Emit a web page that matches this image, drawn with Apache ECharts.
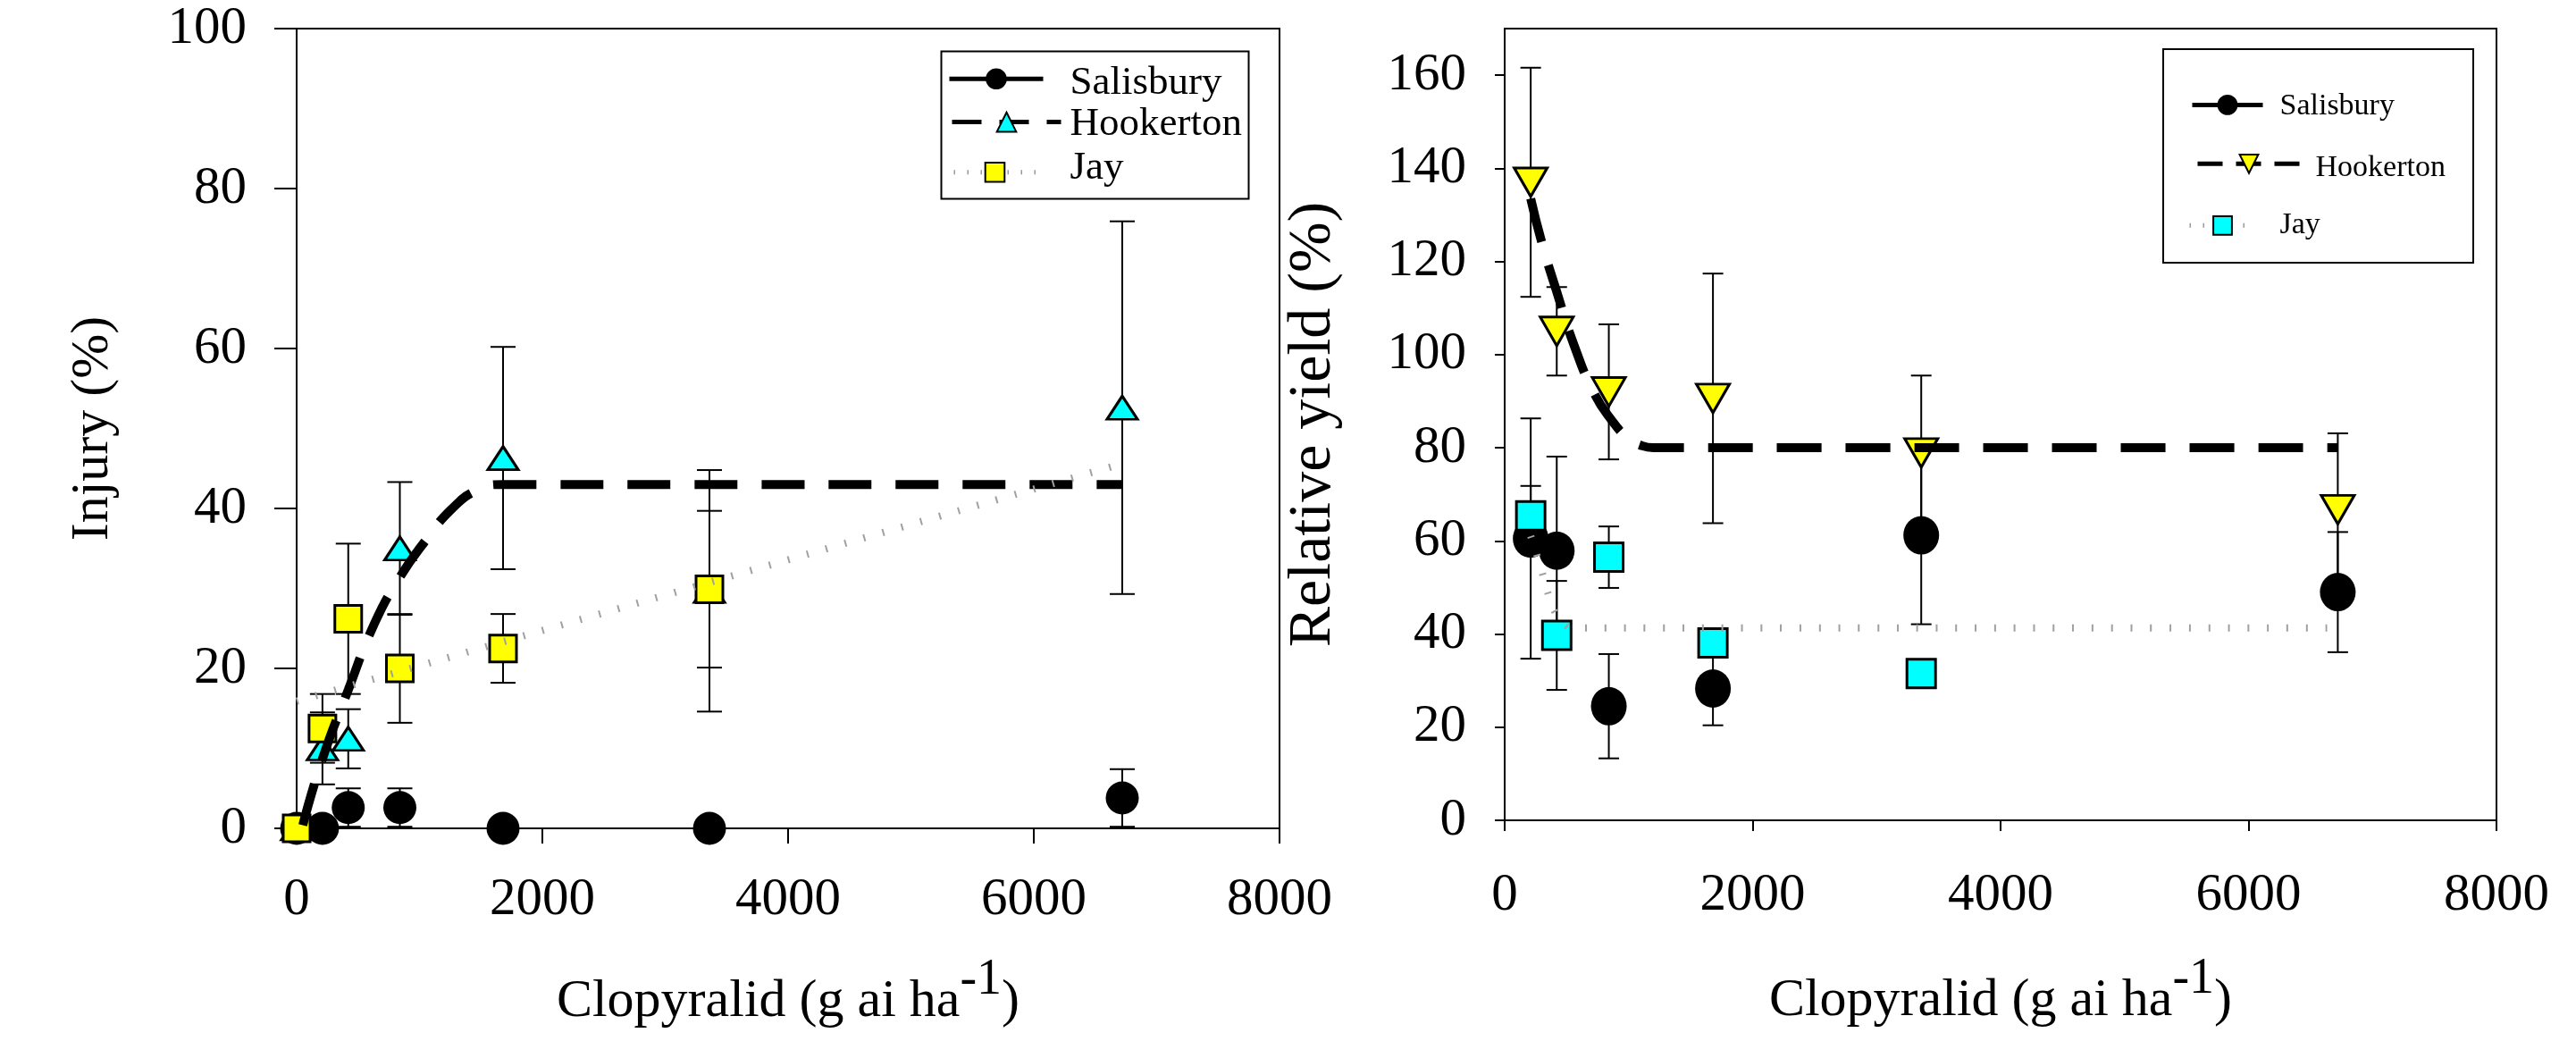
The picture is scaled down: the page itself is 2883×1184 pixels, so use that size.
<!DOCTYPE html>
<html>
<head>
<meta charset="utf-8">
<script src="https://cdn.jsdelivr.net/npm/echarts@6/dist/echarts.min.js"></script>
<style>html,body{margin:0;padding:0;background:#fff}#c{width:2883px;height:1184px}</style>
</head>
<body>
<div id="c"></div>
<script>
// ---------- data ----------
const doses = [0, 210, 420, 840, 1680, 3360, 6720];
const salInj = [0, 0, 2.6, 2.6, 0, 0, 3.8];
const salInjErr = [null, null, 2.4, 2.4, null, null, 3.6];
const hookInj = [0, 10, 11.2, 35, 46.3, 29.7, 52.6];
const hookInjErr = [null, 4.5, 3.7, 8.3, 13.9, 15.1, 23.3];
const jayInj = [0, 12.5, 26.2, 20, 22.5, 29.9, null];
const jayInjErr = [null, 4.3, 9.4, 6.8, 4.3, 9.8, null];

const yldDoses = [210, 420, 840, 1680, 3360, 6720];
const salYld = [60.5, 57.9, 24.5, 28.3, 61.2, 49.0];
const salYldErr = [25.8, 20.2, 11.2, 7.9, 19.1, 12.9];
const hookYld = [137, 105, 92, 90.6, 78.9, 66.7];
const hookYldErr = [24.6, 9.5, 14.5, 26.8, 16.6, 16.4];
const jayYld = [65.4, 39.7, 56.5, 38.1, 31.5, null];
const jayYldErr = [6.4, 11.7, 6.6, null, null, null];

// fitted curves, read at points along the drawn curves
const hookInjFitDose = [50, 210, 420, 630, 840, 1050, 1260, 1470, 1680, 6720];
const hookInjFit = [0.4, 8.7, 17.3, 25.5, 31.4, 36.0, 39.9, 42.3, 43.0, 43.0];
const jayInjFitDose = [0, 6720];
const jayInjFit = [15.9, 45.6];
const hookYldFitDose = [210, 300, 420, 560, 720, 860, 1000, 1100, 1200, 6720];
const hookYldFit = [133.5, 124, 113.5, 102, 91.8, 86, 81.9, 80.5, 80, 80];
const jayYldFitDose = [210, 296, 344, 404, 480, 548, 6720];
const jayYldFit = [61, 53.8, 49.2, 44.8, 42.3, 41.3, 41.3];

// tick labels
const doseTicks = [0, 2000, 4000, 6000, 8000];
const injTicks = [0, 20, 40, 60, 80, 100];
const yldTicks = [0, 20, 40, 60, 80, 100, 120, 140, 160];

const siteNames = ['Salisbury', 'Hookerton', 'Jay'];
const xTitle = '{a|Clopyralid (g ai ha}{s|-1}{a|)}';
const injTitle = 'Injury (%)';
const yldTitle = 'Relative yield (%)';

// ---------- helpers ----------
const FONT = "'Liberation Serif', 'Times New Roman', serif";
const pts = (xs, ys) => xs.map((x, i) => [x, ys[i]]).filter(p => p[1] != null);
const errs = (xs, ys, es) => xs.map((x, i) => (ys[i] != null && es[i] != null) ? [x, ys[i] - es[i], ys[i] + es[i]] : null).filter(Boolean);

function errRender(capW) {
  return function (params, api) {
    const x = api.value(0), lo = api.value(1), hi = api.value(2);
    const a = api.coord([x, lo]), b = api.coord([x, hi]);
    const st = { stroke: '#000', lineWidth: 2 };
    return { type: 'group', children: [
      { type: 'line', shape: { x1: a[0], y1: a[1], x2: b[0], y2: b[1] }, style: st },
      { type: 'line', shape: { x1: a[0] - capW / 2, y1: a[1], x2: a[0] + capW / 2, y2: a[1] }, style: st },
      { type: 'line', shape: { x1: b[0] - capW / 2, y1: b[1], x2: b[0] + capW / 2, y2: b[1] }, style: st }
    ]};
  };
}
function errSeries(name, gi, data, capW) {
  return { type: 'custom', name, xAxisIndex: gi, yAxisIndex: gi, data, renderItem: errRender(capW),
           encode: { x: 0, y: [1, 2] }, z: 2, silent: true };
}
function scat(name, gi, data, symbol, size, color, border, rot) {
  return { type: 'scatter', name, xAxisIndex: gi, yAxisIndex: gi, data, symbol, symbolSize: size,
           symbolRotate: rot || 0, z: 3,
           itemStyle: { color, borderColor: '#000', borderWidth: border, opacity: 1 } };
}
function fitLine(name, gi, data, symbol, color, ls, rot) {
  return { type: 'line', name, xAxisIndex: gi, yAxisIndex: gi, data, symbol, symbolRotate: rot || 0,
           showSymbol: false, smooth: 0.5, z: 4, silent: true,
           itemStyle: { color, borderColor: '#000', borderWidth: 2 }, lineStyle: ls };
}
function legendOne(name, label, left, top, w, h, fs, pad, fill, ls, rot) {
  return {
    data: [{ name, itemStyle: { color: fill, borderColor: '#000', borderWidth: 2 }, lineStyle: ls, symbolRotate: rot || 0 }],
    left, top, itemWidth: w, itemHeight: h, padding: 0, selectedMode: false, symbolRotate: rot || 0,
    formatter: () => '{t|' + label + '}',
    textStyle: { rich: { t: { fontSize: fs, lineHeight: fs, fontFamily: FONT, color: '#000', padding: pad } } }
  };
}
const axisLineStyle = { show: true, onZero: false, lineStyle: { color: '#000', width: 2 } };
const nameRich = {
  a: { fontSize: 60, lineHeight: 60, fontFamily: FONT, color: '#000', verticalAlign: 'bottom' },
  s: { fontSize: 56, lineHeight: 56, fontFamily: FONT, color: '#000', verticalAlign: 'bottom', padding: [0, 0, 26, 0] }
};
const plain = v => String(v);
function xAx(gi, tickLen, margin, gap) {
  return { gridIndex: gi, type: 'value', min: 0, max: 8000, interval: 2000,
    axisLine: axisLineStyle, splitLine: { show: false },
    axisTick: { show: true, inside: false, length: tickLen, lineStyle: { color: '#000', width: 2 }, customValues: doseTicks },
    axisLabel: { margin, fontSize: 59, fontFamily: FONT, color: '#000', customValues: doseTicks, formatter: plain },
    name: xTitle, nameLocation: 'middle', nameGap: gap, nameTextStyle: { rich: nameRich } };
}
function yAx(gi, max, ticks, tickLen, margin, title, fs, gap) {
  return { gridIndex: gi, type: 'value', min: 0, max, interval: 20,
    axisLine: axisLineStyle, splitLine: { show: false },
    axisTick: { show: true, inside: false, length: tickLen, lineStyle: { color: '#000', width: 2 }, customValues: ticks },
    axisLabel: { margin, fontSize: 59, fontFamily: FONT, color: '#000', customValues: ticks, formatter: plain },
    name: title, nameLocation: 'middle', nameGap: gap,
    nameTextStyle: { fontSize: fs, lineHeight: fs, fontFamily: FONT, color: '#000' } };
}

// series names (left = injury, right = yield)
const L = siteNames.map(n => n + ' (injury)');
const R = siteNames.map(n => n + ' (yield)');

const hookInjLS = { color: '#000', width: 10, type: [48, 27] };
const jayInjLS = { color: '#a0a0a0', width: 8, type: [2, 20] };
const hookYldLS = { color: '#000', width: 10, type: [50, 27] };
const jayYldLS = { color: '#a0a0a0', width: 8, type: [2, 19.8] };

const option = {
  animation: false,
  backgroundColor: '#fff',
  textStyle: { fontFamily: FONT },
  grid: [
    { left: 332, top: 32, right: 1451, bottom: 257, show: true, borderColor: '#000', borderWidth: 2 },
    { left: 1684, top: 32, right: 89, bottom: 266, show: true, borderColor: '#000', borderWidth: 2 }
  ],
  xAxis: [xAx(0, 17, 51, 164), xAx(1, 12, 55, 172)],
  yAxis: [
    yAx(0, 100, injTicks, 25, 56, injTitle, 60, 198),
    yAx(1, 170, yldTicks, 11, 43, yldTitle, 68, 180)
  ],
  legend: [
    legendOne(L[0], siteNames[0], 1060, 60.8, 105, 27, 45, [10, 0, 0, 25], '#000', { color: '#000', width: 5, type: 'solid' }),
    legendOne(L[1], siteNames[1], 1063, 111.1, 122, 27, 45, [6, 0, 0, 5], '#00FFFF', { color: '#000', width: 5, type: [33, 20] }),
    legendOne(L[2], siteNames[2], 1065, 165.3, 92, 27, 45, [0, 0, 10, 33], '#FFFF00', { color: '#999', width: 5, type: [1.5, 13.5] }),
    legendOne(R[0], siteNames[0], 2451, 98.4, 79, 26, 34, [4, 0, 0, 14], '#000', { color: '#000', width: 5, type: 'solid' }),
    legendOne(R[1], siteNames[1], 2457, 161.8, 115, 26, 34, [9, 0, 0, 12], '#FFFF00', { color: '#000', width: 5, type: [28, 15] }, 180),
    legendOne(R[2], siteNames[2], 2448, 235.3, 74, 26, 34, [0, 0, 0, 22], '#00FFFF', { color: '#999', width: 5, type: [1.5, 13.5] })
  ],
  graphic: [
    { type: 'rect', shape: { x: 1053.5, y: 57.5, width: 344, height: 165 }, style: { fill: 'none', stroke: '#000', lineWidth: 2 }, silent: true },
    { type: 'rect', shape: { x: 2421, y: 55, width: 347, height: 239 }, style: { fill: 'none', stroke: '#000', lineWidth: 2 }, silent: true }
  ],
  series: [
    // lines first (legend icons come from the first series with each name)
    fitLine(L[0], 0, [], 'circle', '#000', { color: '#000', width: 5 }),
    fitLine(L[1], 0, pts(hookInjFitDose, hookInjFit), 'triangle', '#00FFFF', hookInjLS),
    fitLine(L[2], 0, pts(jayInjFitDose, jayInjFit), 'rect', '#FFFF00', jayInjLS),
    fitLine(R[0], 1, [], 'circle', '#000', { color: '#000', width: 5 }),
    fitLine(R[1], 1, pts(hookYldFitDose, hookYldFit), 'triangle', '#FFFF00', hookYldLS, 180),
    fitLine(R[2], 1, pts(jayYldFitDose, jayYldFit), 'rect', '#00FFFF', jayYldLS),
    // error bars
    errSeries(L[0], 0, errs(doses, salInj, salInjErr), 28),
    errSeries(L[1], 0, errs(doses, hookInj, hookInjErr), 28),
    errSeries(L[2], 0, errs(doses, jayInj, jayInjErr), 28),
    errSeries(R[0], 1, errs(yldDoses, salYld, salYldErr), 23),
    errSeries(R[1], 1, errs(yldDoses, hookYld, hookYldErr), 23),
    errSeries(R[2], 1, errs(yldDoses, jayYld, jayYldErr), 23),
    // markers
    scat(L[0], 0, pts(doses, salInj), 'circle', 37, '#000', 0),
    scat(L[1], 0, pts(doses, hookInj), 'triangle', [34, 26], '#00FFFF', 3),
    scat(L[2], 0, pts(doses, jayInj), 'rect', 30, '#FFFF00', 3),
    scat(R[0], 1, pts(yldDoses, salYld), 'circle', [40, 43], '#000', 0),
    scat(R[1], 1, pts(yldDoses, hookYld), 'triangle', [37, 32], '#FFFF00', 3, 180),
    scat(R[2], 1, pts(yldDoses, jayYld), 'rect', 32, '#00FFFF', 3)
  ]
};
const chart = echarts.init(document.getElementById('c'), null, { renderer: 'canvas' });
chart.setOption(option);
</script>
</body>
</html>
